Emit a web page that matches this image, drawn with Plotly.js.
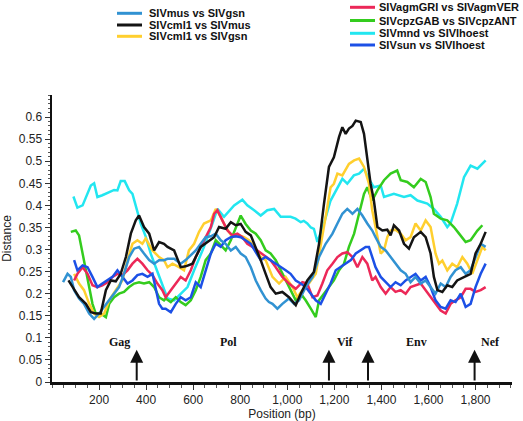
<!DOCTYPE html>
<html>
<head>
<meta charset="utf-8">
<script src="https://cdn.plot.ly/plotly-3.0.1.min.js"></script>
<style>html,body{margin:0;padding:0;background:#fff;}#chart{width:523px;height:421px;}</style>
</head>
<body>
<div id="chart"></div>
<script>
// ---- data ----
var seriesNames = ['SIVmus vs SIVgsn', 'SIVcml1 vs SIVmus', 'SIVcml1 vs SIVgsn',
  'SIVagmGRI vs SIVagmVER', 'SIVcpzGAB vs SIVcpzANT', 'SIVmnd vs SIVlhoest', 'SIVsun vs SIVlhoest'];
var seriesColors = ['#3192d2', '#141414', '#ffcf2e', '#ec2858', '#34cc1e', '#22e6f0', '#1c50e6'];

var musGsnX = [47,66,80,94,115,136,158,179,200,222,243,264,285,306,328,349,370,391,413,434,455,476,491,519,547,568,590,611,632,653,675,696,717,738,760,781,802,823,845,866,887,908,922,937,958,979,1007,1029,1050,1078,1107,1135,1163,1192,1213,1234,1255,1277,1298,1319,1340,1361,1375,1397,1418,1439,1460,1482,1503,1524,1545,1567,1588,1609,1630,1652,1673,1694,1715,1737,1758,1779,1800,1822,1843];
var musGsnY = [.226,.245,.238,.208,.189,.177,.155,.143,.155,.17,.185,.2,.215,.245,.283,.302,.306,.291,.276,.268,.276,.276,.279,.279,.268,.276,.287,.298,.313,.328,.33,.336,.321,.313,.298,.306,.291,.283,.26,.23,.208,.189,.181,.177,.166,.177,.189,.177,.185,.215,.238,.283,.313,.336,.359,.381,.392,.381,.392,.377,.359,.343,.328,.306,.298,.283,.268,.253,.245,.226,.238,.223,.23,.215,.2,.223,.215,.238,.253,.26,.245,.253,.283,.313,.306];

var cml1MusX = [70,87,115,144,165,186,207,229,250,271,292,314,335,356,370,391,413,434,455,476,491,519,547,568,597,632,661,689,710,738,760,781,802,823,845,866,887,908,929,951,979,1007,1036,1057,1085,1113,1135,1156,1177,1198,1220,1234,1248,1262,1277,1291,1312,1326,1340,1354,1368,1383,1404,1425,1439,1453,1475,1496,1517,1538,1567,1588,1609,1623,1638,1659,1680,1701,1722,1751,1779,1800,1822,1843];
var cml1MusY = [.23,.215,.192,.177,.158,.155,.155,.208,.23,.228,.245,.283,.336,.366,.377,.351,.336,.298,.317,.313,.306,.298,.26,.262,.268,.306,.317,.328,.351,.347,.362,.355,.358,.34,.332,.306,.276,.245,.215,.2,.204,.192,.174,.2,.23,.249,.313,.404,.487,.509,.555,.577,.562,.574,.58,.592,.589,.562,.509,.449,.411,.351,.343,.345,.332,.355,.343,.313,.302,.328,.34,.328,.291,.238,.208,.204,.219,.215,.23,.238,.245,.291,.313,.34];

var cml1GsnX = [94,115,136,158,179,200,222,243,271,299,321,342,363,384,398,427,455,476,491,512,540,561,582,604,625,646,675,696,717,738,767,795,816,837,866,887,908,937,965,993,1022,1043,1064,1092,1121,1142,1163,1184,1198,1213,1234,1262,1284,1305,1326,1347,1361,1375,1397,1411,1425,1439,1460,1482,1503,1524,1545,1567,1588,1609,1630,1645,1659,1680,1701,1722,1744,1765,1786,1808,1829,1843];
var cml1GsnY = [.245,.223,.208,.177,.155,.147,.155,.185,.208,.23,.276,.313,.321,.313,.325,.298,.283,.276,.26,.268,.26,.253,.298,.313,.34,.359,.366,.392,.374,.351,.328,.332,.328,.321,.302,.283,.276,.238,.223,.238,.215,.192,.208,.223,.245,.306,.374,.441,.449,.472,.468,.494,.502,.506,.487,.449,.389,.351,.291,.298,.328,.343,.345,.336,.321,.328,.359,.343,.366,.351,.291,.268,.275,.253,.268,.26,.283,.268,.245,.276,.306,.298];

var agmX = [94,108,130,151,172,193,214,236,257,278,299,321,342,363,384,406,427,448,469,483,505,526,547,568,590,611,632,653,675,689,703,724,746,767,788,809,830,852,873,894,915,929,951,979,1007,1036,1064,1085,1107,1128,1149,1170,1192,1213,1234,1255,1277,1298,1319,1340,1361,1375,1397,1418,1439,1460,1482,1503,1524,1545,1567,1588,1609,1630,1652,1673,1694,1715,1737,1758,1779,1800,1822,1843];
var agmY = [.23,.245,.26,.245,.219,.215,.219,.226,.238,.245,.242,.253,.268,.279,.268,.253,.242,.223,.208,.192,.208,.223,.238,.23,.253,.283,.306,.328,.351,.381,.389,.366,.343,.332,.336,.328,.313,.306,.298,.291,.283,.276,.26,.238,.223,.211,.226,.223,.192,.196,.223,.253,.268,.283,.291,.294,.283,.26,.283,.268,.23,.238,.215,.2,.215,.204,.208,.2,.215,.219,.223,.208,.192,.177,.162,.155,.177,.185,.192,.211,.211,.204,.208,.215];

var cpzX = [80,101,115,130,144,158,172,186,207,229,243,264,285,306,328,349,370,391,413,434,455,476,483,505,526,547,568,590,611,632,653,675,696,717,738,760,781,802,823,845,866,887,908,929,951,972,993,1014,1036,1057,1078,1100,1121,1135,1156,1177,1198,1220,1241,1262,1284,1305,1326,1340,1361,1383,1411,1439,1467,1482,1510,1538,1567,1588,1609,1623,1652,1680,1708,1730,1758,1779,1808,1829];
var cpzY = [.34,.343,.332,.291,.245,.208,.177,.155,.155,.147,.177,.192,.2,.204,.215,.223,.226,.223,.226,.215,.192,.185,.189,.181,.192,.181,.174,.185,.208,.238,.276,.291,.321,.31,.298,.321,.351,.377,.358,.343,.336,.321,.298,.291,.276,.253,.23,.208,.185,.2,.185,.166,.147,.185,.2,.215,.23,.253,.268,.306,.336,.381,.426,.441,.411,.434,.457,.472,.479,.457,.453,.441,.46,.453,.419,.381,.37,.366,.351,.336,.317,.321,.343,.355];

var mndX = [91,108,130,165,179,193,214,236,264,278,292,309,328,342,377,398,420,441,462,491,519,547,576,604,646,682,703,731,774,809,830,859,887,915,944,972,1014,1035,1057,1070,1085,1100,1113,1128,1156,1184,1213,1234,1255,1283,1305,1326,1347,1368,1397,1411,1453,1496,1524,1553,1595,1623,1652,1680,1694,1722,1751,1779,1808,1822,1843];
var mndY = [.42,.395,.40,.445,.45,.419,.423,.428,.435,.434,.455,.455,.434,.426,.359,.33,.29,.26,.23,.189,.185,.2,.215,.253,.306,.359,.392,.374,.40,.413,.40,.389,.377,.389,.392,.374,.374,.37,.362,.365,.359,.35,.347,.317,.359,.411,.441,.46,.449,.468,.472,.483,.46,.441,.445,.419,.426,.419,.423,.411,.404,.392,.374,.351,.36,.404,.464,.49,.483,.49,.502];

var sunX = [94,108,130,151,172,193,214,236,257,278,299,321,342,363,384,406,427,441,455,469,483,505,526,547,568,590,611,632,653,675,696,717,738,760,781,802,823,845,866,887,908,929,951,972,993,1014,1036,1057,1078,1100,1121,1142,1163,1184,1206,1227,1248,1270,1291,1312,1333,1347,1375,1397,1418,1439,1460,1482,1503,1524,1545,1567,1588,1609,1630,1652,1673,1694,1715,1737,1758,1779,1800,1822,1843];
var sunY = [.276,.253,.264,.26,.238,.215,.223,.23,.238,.253,.238,.223,.23,.242,.245,.238,.245,.208,.177,.166,.166,.158,.177,.192,.185,.192,.226,.215,.253,.291,.313,.306,.321,.328,.33,.328,.321,.313,.294,.276,.283,.276,.268,.26,.253,.245,.23,.223,.215,.2,.185,.177,.2,.223,.253,.26,.268,.276,.291,.298,.306,.306,.26,.238,.226,.215,.226,.219,.23,.238,.245,.23,.238,.215,.185,.17,.166,.185,.181,.2,.17,.177,.215,.245,.268];

var geneNames = ['Gag', 'Pol', 'Vif', 'Env', 'Nef'];
var genePositions = [288, 751, 1248, 1550, 1864];
var geneLabelY = 0.09;
var arrowPositions = [360, 1177, 1343, 1796];
var arrowTipY = 0.073;
var xTickVals = [200, 400, 600, 800, 1000, 1200, 1400, 1600, 1800];
var yTickVals = [0, 0.05, 0.1, 0.15, 0.2, 0.25, 0.3, 0.35, 0.4, 0.45, 0.5, 0.55, 0.6];

// ---- layout geometry ----
var W = 523, H = 421;
var M = {l: 52, r: 11, t: 95, b: 39};
var pw = W - M.l - M.r, ph = H - M.t - M.b;
function pxX(px) { return (px - M.l) / pw; }
function pxY(py) { return (H - M.b - py) / ph; }

var xs = [musGsnX, cml1MusX, cml1GsnX, agmX, cpzX, mndX, sunX];
var ys = [musGsnY, cml1MusY, cml1GsnY, agmY, cpzY, mndY, sunY];
var drawOrder = [5, 4, 2, 3, 6, 0, 1];

var traces = drawOrder.map(function (i) {
  return {
    x: xs[i], y: ys[i], type: 'scatter', mode: 'lines', name: seriesNames[i],
    line: {color: seriesColors[i], width: 2.5}, showlegend: false, hoverinfo: 'skip'
  };
});

// legend (two columns) drawn as swatch shapes + text annotations
var legendCols = [
  {items: [0, 1, 2], lineX0: 117, lineX1: 142, textX: 147, rows: [13.3, 25, 36.3]},
  {items: [3, 4, 5, 6], lineX0: 350, lineX1: 375, textX: 377, rows: [7.3, 20.5, 33.3, 45]}
];
var shapes = [];
var annotations = [];
legendCols.forEach(function (col) {
  col.items.forEach(function (idx, k) {
    var yy = pxY(col.rows[k]);
    shapes.push({type: 'line', xref: 'paper', yref: 'paper', x0: pxX(col.lineX0), x1: pxX(col.lineX1),
      y0: yy, y1: yy, line: {color: seriesColors[idx], width: 3}});
    annotations.push({xref: 'paper', yref: 'paper', x: pxX(col.textX), y: yy, xanchor: 'left', yanchor: 'middle',
      text: '<b>' + seriesNames[idx] + '</b>', showarrow: false,
      font: {family: 'Liberation Sans, Arial, sans-serif', size: 11, color: '#111'}});
  });
});

genePositions.forEach(function (p, i) {
  annotations.push({x: p, y: geneLabelY, xref: 'x', yref: 'y', text: '<b>' + geneNames[i] + '</b>',
    showarrow: false, font: {family: 'Liberation Serif, Times New Roman, serif', size: 12, color: '#111'}});
});
arrowPositions.forEach(function (p) {
  annotations.push({x: p, y: arrowTipY, ax: p, ay: 0, xref: 'x', yref: 'y', axref: 'x', ayref: 'y',
    text: '', showarrow: true, arrowhead: 2, arrowsize: 1.3, arrowwidth: 2, arrowcolor: '#111', standoff: 0});
});

var layout = {
  width: W, height: H,
  margin: M,
  paper_bgcolor: '#fff', plot_bgcolor: '#fff',
  font: {family: 'Liberation Sans, Arial, sans-serif', size: 12, color: '#222'},
  showlegend: false,
  xaxis: {
    range: [0, 1955], tickvals: xTickVals, tickformat: ',d',
    showgrid: false, zeroline: false, showline: true, linecolor: '#111', linewidth: 2.5,
    ticks: 'outside', ticklen: 5, tickwidth: 1, tickcolor: '#333',
    minor: {dtick: 50, tick0: 0, ticks: 'outside', ticklen: 3, tickcolor: '#555', showgrid: false},
    title: {text: 'Position (bp)', font: {size: 12}, standoff: 4},
    automargin: false
  },
  yaxis: {
    range: [0, 0.65], tickvals: yTickVals,
    showgrid: false, zeroline: false, showline: true, linecolor: '#111', linewidth: 2.5,
    ticks: 'outside', ticklen: 5, tickwidth: 1, tickcolor: '#333',
    minor: {dtick: 0.01, tick0: 0, ticks: 'outside', ticklen: 2, tickcolor: '#555', showgrid: false},
    title: {text: 'Distance', font: {size: 12}, standoff: 6},
    automargin: false
  },
  shapes: shapes,
  annotations: annotations
};

Plotly.newPlot('chart', traces, layout, {displayModeBar: false, staticPlot: true});
</script>
</body>
</html>
